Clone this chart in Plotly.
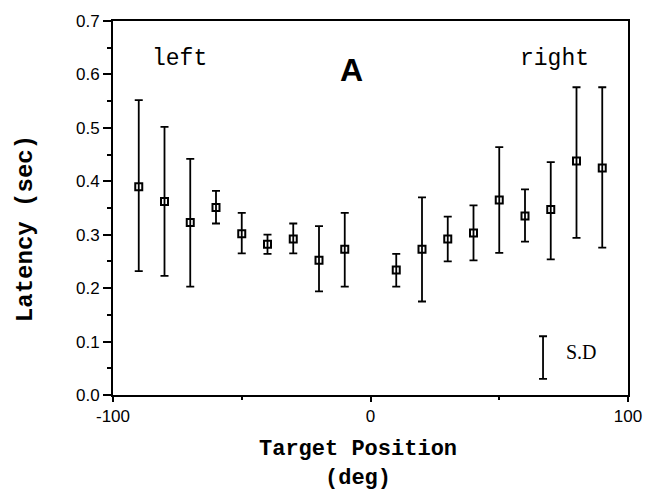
import plotly.graph_objects as go

# Data
target_deg = [-90, -80, -70, -60, -50, -40, -30, -20, -10, 10, 20, 30, 40, 50, 60, 70, 80, 90]
latency_mean = [0.390, 0.362, 0.323, 0.351, 0.302, 0.282, 0.292, 0.252, 0.273,
                0.234, 0.273, 0.292, 0.303, 0.365, 0.335, 0.347, 0.438, 0.425]
latency_upper = [0.552, 0.502, 0.442, 0.382, 0.341, 0.300, 0.321, 0.316, 0.341,
                 0.264, 0.370, 0.334, 0.355, 0.464, 0.385, 0.436, 0.576, 0.576]
latency_lower = [0.232, 0.223, 0.203, 0.321, 0.265, 0.264, 0.265, 0.194, 0.203,
                 0.203, 0.175, 0.250, 0.252, 0.266, 0.287, 0.254, 0.294, 0.276]

# S.D. legend bar
sd_x = [67]
sd_center = [0.070]
sd_half = [0.040]

x_ticks = [-100, 0, 100]
y_ticks = [0.0, 0.1, 0.2, 0.3, 0.4, 0.5, 0.6, 0.7]

err_plus = [u - m for u, m in zip(latency_upper, latency_mean)]
err_minus = [m - l for m, l in zip(latency_mean, latency_lower)]

mono = "Liberation Mono, Courier New, monospace"
sans = "Liberation Sans, Arial, Helvetica, sans-serif"

fig = go.Figure()
fig.add_trace(go.Scatter(
    x=target_deg, y=latency_mean, mode="markers",
    marker=dict(symbol="square-open", size=7, color="black", line=dict(width=2, color="black")),
    error_y=dict(type="data", symmetric=False, array=err_plus, arrayminus=err_minus,
                 color="black", thickness=1.8, width=4),
    showlegend=False,
))
fig.add_trace(go.Scatter(
    x=sd_x, y=sd_center, mode="markers",
    marker=dict(size=1, color="rgba(0,0,0,0)"),
    error_y=dict(type="data", array=sd_half, color="black", thickness=1.8, width=4),
    showlegend=False, hoverinfo="skip",
))

fig.update_layout(
    width=661, height=495,
    margin=dict(l=113, r=33, t=12, b=100),
    paper_bgcolor="white", plot_bgcolor="white",
    xaxis=dict(range=[-100, 100], tickvals=x_ticks, ticktext=[str(v) for v in x_ticks],
               showline=True, linecolor="black", linewidth=2, mirror=True,
               ticks="outside", ticklen=5, tickwidth=1.5, tickcolor="black",
               minor=dict(dtick=50, ticks="outside", ticklen=3, tickcolor="black"),
               showgrid=False, zeroline=False,
               tickfont=dict(family=sans, size=17, color="black")),
    yaxis=dict(range=[0, 0.7], tickvals=y_ticks, ticktext=[f"{v:.1f}" for v in y_ticks],
               showline=True, linecolor="black", linewidth=2, mirror=True,
               ticks="outside", ticklen=8, tickwidth=1.5, tickcolor="black",
               minor=dict(dtick=0.05, ticks="outside", ticklen=4, tickcolor="black"),
               showgrid=False, zeroline=False,
               tickfont=dict(family=sans, size=17, color="black")),
    annotations=[
        dict(text="<b>Target Position</b><br><b>(deg)</b>", xref="paper", yref="paper",
             x=0.476, y=-0.184, showarrow=False,
             font=dict(family=mono, size=22, color="black"),
             xanchor="center", yanchor="middle"),
        dict(text="<b>Latency (sec)</b>", xref="paper", yref="paper", x=-0.171, y=0.446,
             textangle=-90, showarrow=False, font=dict(family=mono, size=24, color="black"),
             xanchor="center", yanchor="middle"),
        dict(text="left", xref="x", yref="y", x=-74, y=0.628, showarrow=False,
             font=dict(family=mono, size=23, color="black")),
        dict(text="right", xref="x", yref="y", x=71.3, y=0.628, showarrow=False,
             font=dict(family=mono, size=23, color="black")),
        dict(text="<b>A</b>", xref="x", yref="y", x=-7.2, y=0.609, showarrow=False,
             font=dict(family=sans, size=32, color="black")),
        dict(text="S.D", xref="x", yref="y", x=82, y=0.080, showarrow=False,
             font=dict(family="Liberation Serif, Times New Roman, serif", size=20, color="black")),
    ],
)

fig.write_html("out.html", config={"displayModeBar": False},
               post_script="document.body.style.margin='0';")
